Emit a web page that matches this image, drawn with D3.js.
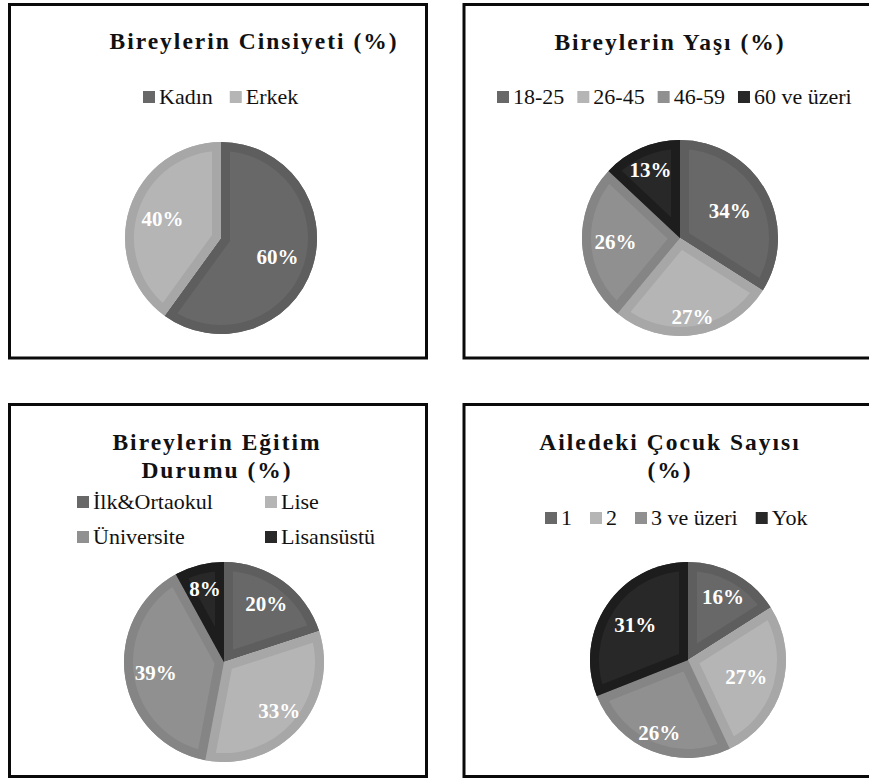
<!DOCTYPE html>
<html>
<head>
<meta charset="UTF-8">
<title>Pie charts</title>
<script src="https://cdn.jsdelivr.net/npm/d3@7"></script>
<style>
  body { margin: 0; background: #fff; }
  svg { display: block; }
  text { font-family: "Liberation Serif", "Times New Roman", Times, serif; }
</style>
</head>
<body>
<script>
// data
var genderLabels = ["Kadın", "Erkek"];
var genderValues = [60, 40];
var ageLabels = ["18-25", "26-45", "46-59", "60 ve üzeri"];
var ageValues = [34, 27, 26, 13];
var eduLabels = ["İlk&Ortaokul", "Lise", "Üniversite", "Lisansüstü"];
var eduValues = [20, 33, 39, 8];
var childLabels = ["1", "2", "3 ve üzeri", "Yok"];
var childValues = [16, 27, 26, 31];

var titles = [
  ["Bireylerin Cinsiyeti (%)"],
  ["Bireylerin Yaşı (%)"],
  ["Bireylerin Eğitim", "Durumu (%)"],
  ["Ailedeki Çocuk Sayısı", "(%)"]
];

// slice shades (inner fill, darker edge band)
var fills = ["#686868", "#b5b5b5", "#909090", "#282828"];
var edges = ["#5e5e5e", "#a7a7a7", "#858585", "#1d1d1d"];

var w = 869, h = 778;

// layout of the four panels
var panels = [
  {labels: genderLabels, values: genderValues, title: titles[0],
   box: [9.5, 4.5, 417, 353.5], titleX: 254, titleY: 49,
   legend: {type: "row", x: 143, y: 97, gap: 17},
   cx: 221, cy: 238, r: 96, labelR: [0.62, 0.64]},
  {labels: ageLabels, values: ageValues, title: titles[1],
   box: [464, 4.5, 420, 353.5], titleX: 670, titleY: 50,
   legend: {type: "row", x: 497, y: 97, gap: 13},
   cx: 680, cy: 238, r: 98, labelR: [0.58, 0.81, 0.66, 0.76]},
  {labels: eduLabels, values: eduValues, title: titles[2],
   box: [9.5, 404.5, 417, 372], titleX: 217, titleY: 450,
   legend: {type: "grid", cols: [77, 265], rows: [502, 537]},
   cx: 224, cy: 662, r: 100, labelR: [0.72, 0.735, 0.69, 0.76]},
  {labels: childLabels, values: childValues, title: titles[3],
   box: [464, 404.5, 420, 372], titleX: 670, titleY: 450,
   legend: {type: "row", x: 545, y: 518, gap: 18},
   cx: 688, cy: 660, r: 98, labelR: [0.74, 0.62, 0.8, 0.65]}
];

var svg = d3.select("body").append("svg")
  .attr("width", w)
  .attr("height", h);

var pie = d3.pie().sort(null);

panels.forEach(function(p, pi) {
  var g = svg.append("g").attr("class", "panel");

  // frame
  g.append("rect")
    .attr("x", p.box[0]).attr("y", p.box[1])
    .attr("width", p.box[2]).attr("height", p.box[3])
    .attr("fill", "none")
    .attr("stroke", "#0a0a0a")
    .attr("stroke-width", 3);

  // title
  g.selectAll("text.title")
    .data(p.title)
    .enter()
    .append("text")
    .attr("class", "title")
    .attr("x", p.titleX)
    .attr("y", function(d, i) { return p.titleY + i * 28; })
    .attr("text-anchor", "middle")
    .attr("font-size", "23.5px")
    .attr("font-weight", "bold")
    .attr("letter-spacing", "2px")
    .attr("fill", "#111")
    .text(function(d) { return d; });

  // legend
  var lg = g.append("g").attr("class", "legend");
  var items = lg.selectAll("g")
    .data(p.labels)
    .enter()
    .append("g");
  items.append("rect")
    .attr("width", 12).attr("height", 12)
    .attr("y", -6)
    .attr("fill", function(d, i) { return fills[i]; });
  items.append("text")
    .attr("x", 16)
    .attr("y", 7)
    .attr("font-size", "22px")
    .attr("fill", "#111")
    .text(function(d) { return d; });

  if (p.legend.type === "row") {
    var xx = p.legend.x;
    items.each(function() {
      var item = d3.select(this);
      item.attr("transform", "translate(" + xx + "," + p.legend.y + ")");
      xx += 16 + item.select("text").node().getComputedTextLength() + p.legend.gap;
    });
  } else {
    items.attr("transform", function(d, i) {
      return "translate(" + p.legend.cols[i % 2] + "," + p.legend.rows[Math.floor(i / 2)] + ")";
    });
  }

  // pie
  var arcs = pie(p.values);
  var arc = d3.arc().innerRadius(0).outerRadius(p.r);
  var pg = g.append("g").attr("transform", "translate(" + p.cx + "," + p.cy + ")");

  pg.selectAll("clipPath")
    .data(arcs)
    .enter()
    .append("clipPath")
    .attr("id", function(d, i) { return "clip" + pi + "_" + i; })
    .append("path")
    .attr("d", arc);

  var slices = pg.selectAll("g.slice")
    .data(arcs)
    .enter()
    .append("g")
    .attr("class", "slice");
  slices.append("path")
    .attr("d", arc)
    .attr("fill", function(d, i) { return fills[i]; });
  // darker band along the inside of each slice edge
  slices.append("path")
    .attr("d", arc)
    .attr("fill", "none")
    .attr("stroke", function(d, i) { return edges[i]; })
    .attr("stroke-width", 18)
    .attr("clip-path", function(d, i) { return "url(#clip" + pi + "_" + i + ")"; });

  // data labels
  pg.selectAll("text.lbl")
    .data(arcs)
    .enter()
    .append("text")
    .attr("class", "lbl")
    .attr("transform", function(d, i) {
      var rr = p.r * p.labelR[i];
      var c = d3.arc().innerRadius(rr).outerRadius(rr).centroid(d);
      return "translate(" + c[0] + "," + c[1] + ")";
    })
    .attr("dy", "0.35em")
    .attr("text-anchor", "middle")
    .attr("font-size", "21px")
    .attr("font-weight", "bold")
    .attr("fill", "#fff")
    .text(function(d) { return d.data + "%"; });
});
</script>
</body>
</html>
